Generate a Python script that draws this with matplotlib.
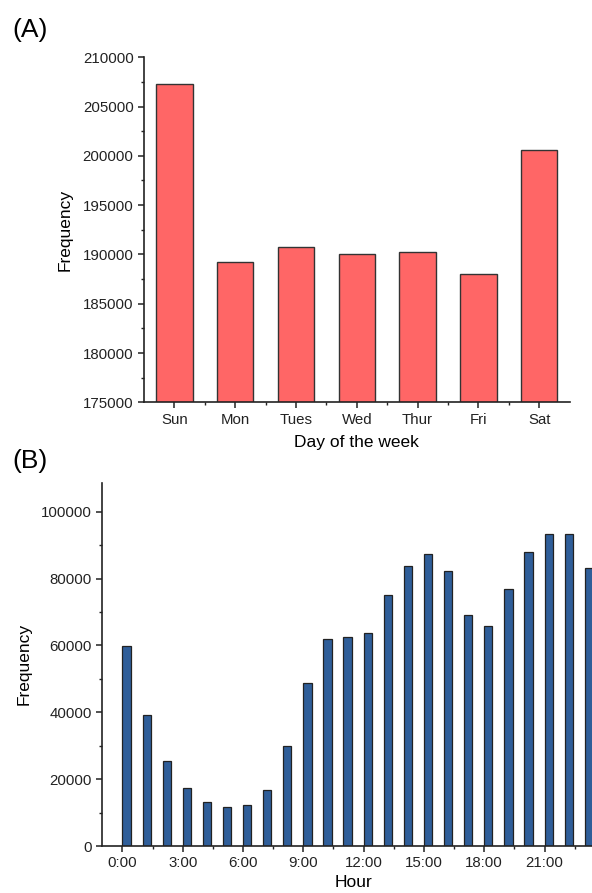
import matplotlib
matplotlib.use("Agg")
import matplotlib.pyplot as plt
import numpy as np
from matplotlib.ticker import MultipleLocator, FixedLocator

plt.rcParams['font.family'] = ['Liberation Sans', 'DejaVu Sans']

# panel A data
days = ["Sun", "Mon", "Tues", "Wed", "Thur", "Fri", "Sat"]
day_freq = [207300, 189220, 190710, 190070, 190240, 188040, 200570]

# panel B data
hours = list(range(24))
hour_freq = [59800, 39100, 25400, 17400, 13200, 11700, 12400, 16900,
             29900, 48700, 62000, 62500, 63700, 75100, 83700, 87300,
             82200, 69200, 65900, 76800, 88000, 93400, 93400, 83100]
hour_ticks = [0, 3, 6, 9, 12, 15, 18, 21]
hour_labels = ["0:00", "3:00", "6:00", "9:00", "12:00", "15:00", "18:00", "21:00"]

W, H = 592, 893
fig = plt.figure(figsize=(W/100, H/100), dpi=100)

def px_axes(left, top, width, height):
    return fig.add_axes([left/W, (H - top - height)/H, width/W, height/H])

def style(ax):
    for s in ["top", "right"]:
        ax.spines[s].set_visible(False)
    for s in ["left", "bottom"]:
        ax.spines[s].set_linewidth(1.2)
        ax.spines[s].set_color("#222222")
    ax.tick_params(which="major", direction="out", length=4.5, width=1.1,
                   labelsize=10.8, colors="#222222", pad=3)
    ax.tick_params(which="minor", direction="out", length=2.5, width=1.0,
                   colors="#222222")

# (A)
ax1 = px_axes(144, 57.2, 425.6, 345.1)
x = np.arange(len(days))
ax1.bar(x, day_freq, width=0.6, color="#FF6666", edgecolor="#333333", linewidth=1.0)
ax1.set_xlim(-0.5, 6.5)
ax1.set_ylim(175000, 210000)
ax1.set_xticks(x)
ax1.set_xticklabels(days)
ax1.xaxis.set_minor_locator(FixedLocator(np.arange(0.5, 6, 1)))
ax1.yaxis.set_major_locator(MultipleLocator(5000))
ax1.yaxis.set_minor_locator(MultipleLocator(2500))
style(ax1)
ax1.set_xlabel("Day of the week", fontsize=12.5, labelpad=6)
ax1.set_ylabel("Frequency", fontsize=12.5, labelpad=7)
fig.text(12/W, 1 - 30/H, "(A)", fontsize=19, va="center", ha="left")

# (B)
ax2 = px_axes(102.3, 482.7, 502.5, 363.3)
ax2.bar(hours, hour_freq, width=0.41, align="edge", color="#2F5E99",
        edgecolor="#222222", linewidth=0.9)
ax2.set_xlim(-1, 24)
ax2.set_ylim(0, 108700)
ax2.set_xticks(hour_ticks)
ax2.set_xticklabels(hour_labels)
ax2.xaxis.set_minor_locator(FixedLocator(np.arange(1.5, 24, 3)))
ax2.yaxis.set_major_locator(MultipleLocator(20000))
ax2.yaxis.set_minor_locator(MultipleLocator(10000))
style(ax2)
ax2.set_xlabel("Hour", fontsize=12.5, labelpad=3)
ax2.set_ylabel("Frequency", fontsize=12.5, labelpad=7)
fig.text(12/W, 1 - 461/H, "(B)", fontsize=19, va="center", ha="left")

fig.savefig("out.png", dpi=100)
